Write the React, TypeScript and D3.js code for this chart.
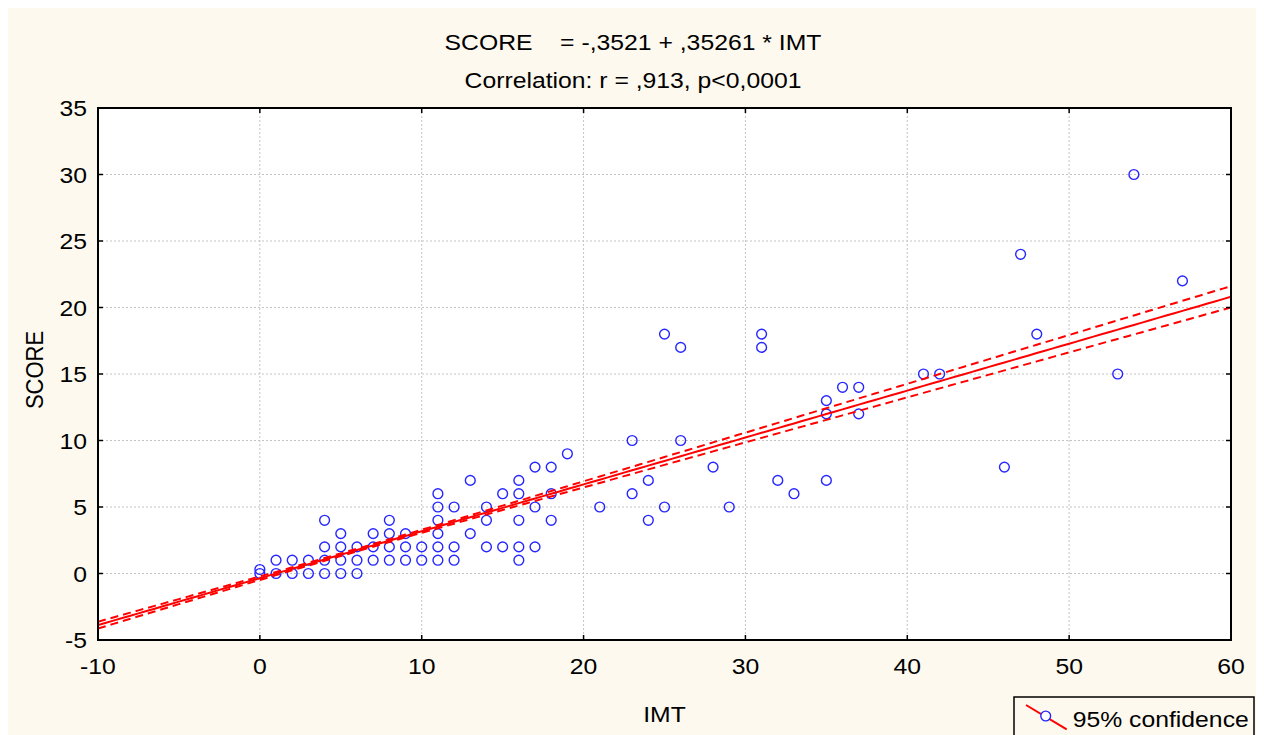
import React, { useLayoutEffect } from "react";
import * as d3 from "d3";

// ---- data ----
const imt = [
  0, 0, 1, 1, 2, 2, 3, 3, 4, 4, 4, 4, 5, 5, 5, 5, 6, 6, 6, 7, 7, 7, 8, 8, 8, 8, 9, 9, 9, 10, 10,
  11, 11, 11, 11, 11, 11, 12, 12, 12, 13, 13, 14, 14, 14, 15, 15, 16, 16, 16, 16, 16, 17, 17, 17,
  18, 18, 18, 19, 21, 23, 23, 24, 24, 25, 25, 26, 26, 28, 29, 31, 31, 32, 33, 35, 35, 35, 36, 37, 37,
  41, 42, 46, 47, 48, 53, 54, 57,
];
const score = [
  0, 0.3, 0, 1, 0, 1, 0, 1, 0, 1, 2, 4, 0, 1, 2, 3, 0, 1, 2, 1, 2, 3, 1, 2, 3, 4, 1, 2, 3, 1, 2,
  1, 2, 3, 4, 5, 6, 1, 2, 5, 3, 7, 2, 4, 5, 2, 6, 1, 2, 4, 6, 7, 2, 5, 8,
  4, 6, 8, 9, 5, 6, 10, 4, 7, 5, 18, 10, 17, 8, 5, 17, 18, 7, 6, 7, 12, 13, 14, 12, 14,
  15, 15, 8, 24, 18, 15, 30, 22,
];
const xTicks = [-10, 0, 10, 20, 30, 40, 50, 60];
const yTicks = [-5, 0, 5, 10, 15, 20, 25, 30, 35];
const xTickLabels = ["-10", "0", "10", "20", "30", "40", "50", "60"];
const yTickLabels = ["-5", "0", "5", "10", "15", "20", "25", "30", "35"];

// regression  SCORE = -,3521 + ,35261 * IMT
const intercept = -0.3521;
const slope = 0.35261;
// 95% confidence band half-width
const ciMinHalf = 0.1;
const ciCenter = 6;
const ciGrowth = 0.0147;

const titleLine1 = "SCORE    = -,3521 + ,35261 * IMT";
const titleLine2 = "Correlation: r = ,913, p<0,0001";
const xLabel = "IMT";
const yLabel = "SCORE";
const legendLabel = "95% confidence";

// ---- layout ----
const W = 1249;
const H = 727;
const pl = 90, pr = 1223, pt = 100, pb = 632;
const FONT = "'Liberation Sans', Arial, sans-serif";
const FS = 22;
const SX = 1.125;
const BG = "#fdf9ee";
const BLUE = "#2626ff";
const RED = "#ff0000";

function T(props: { x: number; y: number; anchor?: string; rotate?: number; size?: number; children: any }) {
  const { x, y, anchor = "middle", rotate, size = FS, children } = props;
  const tr = `translate(${x},${y}) scale(${SX},1)` + (rotate ? ` rotate(${rotate})` : "");
  return (
    <text transform={tr} textAnchor={anchor} fontFamily={FONT} fontSize={size} fill="#000" style={{ whiteSpace: "pre" }}>
      {children}
    </text>
  );
}

export default function App() {
  useLayoutEffect(() => {
    document.documentElement.style.overflow = "hidden";
    document.body.style.overflow = "hidden";
  }, []);

  const x = d3.scaleLinear().domain([-10, 60]).range([pl, pr]);
  const y = d3.scaleLinear().domain([-5, 35]).range([pb, pt]);

  const fit = (v: number) => intercept + slope * v;
  const half = (v: number) => Math.sqrt(ciMinHalf * ciMinHalf + Math.pow(ciGrowth * (v - ciCenter), 2));
  const xs = d3.range(-10, 60.001, 0.5);
  const fitPath = d3.line<number>().x((v) => x(v)).y((v) => y(fit(v)))(xs) as string;
  const upPath = d3.line<number>().x((v) => x(v)).y((v) => y(fit(v) + half(v)))(xs) as string;
  const loPath = d3.line<number>().x((v) => x(v)).y((v) => y(fit(v) - half(v)))(xs) as string;

  const tickLen = 5;

  return (
    <svg width={W} height={H} style={{ display: "block" }}>
      <defs>
        <clipPath id="plotclip">
          <rect x={pl} y={pt} width={pr - pl} height={pb - pt} />
        </clipPath>
      </defs>
      <rect x={0} y={0} width={W} height={H} fill={BG} />
      <rect x={pl} y={pt} width={pr - pl} height={pb - pt} fill="#fff" />

      {/* grid */}
      <g stroke="#c4c4c4" strokeWidth={1} strokeDasharray="2,2">
        {xTicks.slice(1, -1).map((t) => (
          <line key={"gx" + t} x1={x(t)} x2={x(t)} y1={pt} y2={pb} />
        ))}
        {yTicks.slice(1, -1).map((t) => (
          <line key={"gy" + t} x1={pl} x2={pr} y1={y(t)} y2={y(t)} />
        ))}
      </g>

      {/* points */}
      <g clipPath="url(#plotclip)" fill="none" stroke={BLUE} strokeWidth={1.4}>
        {imt.map((v, i) => (
          <circle key={i} cx={x(v)} cy={y(score[i])} r={4.9} />
        ))}
      </g>

      {/* regression + confidence */}
      <g clipPath="url(#plotclip)" fill="none" stroke={RED} strokeWidth={2}>
        <path d={fitPath} />
        <path d={upPath} strokeDasharray="8,5" />
        <path d={loPath} strokeDasharray="8,5" />
      </g>

      {/* ticks */}
      <g stroke="#000" strokeWidth={1.5}>
        {xTicks.map((t) => (
          <g key={"tx" + t}>
            <line x1={x(t)} x2={x(t)} y1={pb} y2={pb - tickLen} />
            <line x1={x(t)} x2={x(t)} y1={pt} y2={pt + tickLen} />
          </g>
        ))}
        {yTicks.map((t) => (
          <g key={"ty" + t}>
            <line x1={pl} x2={pl + tickLen} y1={y(t)} y2={y(t)} />
            <line x1={pr} x2={pr - tickLen} y1={y(t)} y2={y(t)} />
          </g>
        ))}
      </g>
      <rect x={pl} y={pt} width={pr - pl} height={pb - pt} fill="none" stroke="#000" strokeWidth={2} />

      {/* tick labels */}
      {xTicks.map((t, i) => (
        <T key={"lx" + t} x={x(t)} y={pb + 34}>
          {xTickLabels[i]}
        </T>
      ))}
      {yTicks.map((t, i) => (
        <T key={"ly" + t} x={pl - 11} y={y(t) + 8} anchor="end">
          {yTickLabels[i]}
        </T>
      ))}

      {/* titles */}
      <T x={625} y={42}>{titleLine1}</T>
      <T x={625} y={80}>{titleLine2}</T>
      <T x={(pl + pr) / 2} y={713.5}>{xLabel}</T>
      <T x={34.5} y={(pt + pb) / 2 - 4} rotate={-90}>{yLabel}</T>

      {/* legend */}
      <rect x={1006} y={689} width={240} height={60} fill={BG} stroke="#000" strokeWidth={1.5} />
      <line x1={1018} y1={697} x2={1058.7} y2={721.3} stroke={RED} strokeWidth={2} />
      <circle cx={1037.7} cy={708} r={4.9} fill="#fff" stroke={BLUE} strokeWidth={1.4} />
      <T x={1064.7} y={719} anchor="start">{legendLabel}</T>
    </svg>
  );
}
